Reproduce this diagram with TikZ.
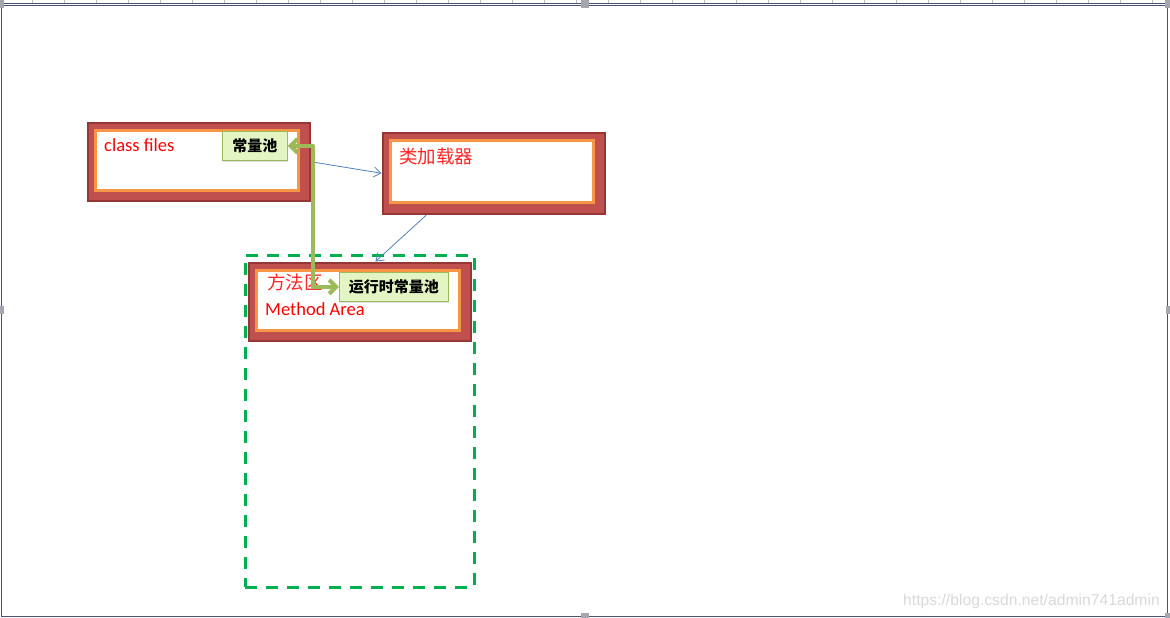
\documentclass[tikz,border=0pt]{standalone}
\usepackage{fontspec}
\setmainfont{Carlito}
\newfontfamily\cjk{Noto Sans CJK SC}
\newfontfamily\wm{Liberation Sans}
\usetikzlibrary{arrows.meta,calc,shadows}
\definecolor{darkred}{HTML}{953735}
\definecolor{boxred}{HTML}{C0504D}
\definecolor{boxorange}{HTML}{F79646}
\definecolor{olivegreen}{HTML}{9BBB59}
\definecolor{palegreen}{HTML}{E2F5C2}
\definecolor{dashgreen}{HTML}{00B050}
\definecolor{linkblue}{HTML}{4F81BD}
\definecolor{framecol}{HTML}{44546A}
\definecolor{handlecol}{HTML}{A6A6AE}
\definecolor{txtred}{HTML}{FF0000}
\tikzset{
  outerbox/.style={draw=darkred, fill=boxred, line width=2.5pt, minimum width=222pt, minimum height=78pt, anchor=north west, inner sep=0pt},
  innerbox/.style={draw=boxorange, fill=white, line width=3pt, minimum width=203pt, minimum height=60pt, inner sep=0pt},
  tagbox/.style={draw=olivegreen, fill=palegreen, line width=0.8pt, inner sep=0pt, drop shadow={shadow xshift=1pt, shadow yshift=-1.5pt, opacity=0.25}, font=\cjk\bfseries\fontsize{15}{17}\selectfont},
  redtxt/.style={text=txtred, anchor=base west, inner sep=0pt},
  thinlink/.style={draw=linkblue, line width=0.8pt, -{Straight Barb[length=7pt,width=10pt]}},
  greenlink/.style={draw=olivegreen, line width=4pt, line join=round, {Straight Barb[length=7pt,width=14pt]}-{Straight Barb[length=7pt,width=14pt]}},
  handle/.style={fill=handlecol, draw=none},
}
\begin{document}
\begin{tikzpicture}[x=1pt,y=-1pt]
\useasboundingbox (0,0) rectangle (1170,618);
\fill[white] (0,0) rectangle (1170,618);
% frame
\foreach \x in {32,64,...,1160} \draw[gray!50, line width=0.4pt] (\x,0) -- (\x,3);
\draw[framecol, line width=1pt] (2,3.5) -- (1168,3.5);
\draw[framecol, line width=1pt] (2,5.5) -- (1168,5.5);
\draw[framecol, line width=1pt] (1.5,8) -- (1.5,616.5) -- (1167.5,616.5) -- (1167.5,8);
\fill[handle] (0,0) rectangle (4,8);
\fill[handle] (581,0) rectangle (589,8);
\fill[handle] (1165,0) rectangle (1170,8);
\fill[handle] (0,306) rectangle (4,314);
\fill[handle] (1166,306) rectangle (1170,314);
\fill[handle] (581,613) rectangle (589,618);
\fill[handle] (1165,613) rectangle (1170,618);

% dashed method area region
\node[draw=dashgreen, dash pattern=on 12pt off 9pt, line width=3pt, minimum width=229pt, minimum height=332pt, anchor=north west, inner sep=0pt] (region) at (243.5,253.5) {};

% class files
\node[outerbox] (cf) at (86.5,121.5) {};
\node[innerbox] (cfi) at ($(cf.center)+(-1.5,-1.5)$) {};
\node[redtxt, font=\fontsize{18.5}{21}\selectfont] (cft) at (104,151) {class files};
\node[tagbox, minimum width=65pt, minimum height=29pt, anchor=north west] (cp) at (222,131) {常量池};

% class loader
\node[outerbox, minimum height=81pt] (cl) at (381.5,131.5) {};
\node[innerbox, minimum height=62pt] (cli) at ($(cl.center)+(-1.5,-1.5)$) {};
\node[redtxt, font=\cjk\fontsize{18.5}{21}\selectfont, text=txtred!85] (clt) at (399,163) {类加载器};

% method area
\node[outerbox] (ma) at (247.5,261.5) {};
\node[innerbox] (mai) at ($(ma.center)+(-1.5,-1.5)$) {};
\node[redtxt, font=\cjk\fontsize{18.5}{21}\selectfont, text=txtred!85] (mat) at (267,289) {方法区};
\node[redtxt, font=\fontsize{18.5}{21}\selectfont] (mae) at (265,315) {Method Area};
\node[tagbox, minimum width=109pt, minimum height=29pt, anchor=north west] (rt) at (339,272) {运行时常量池};

% connectors
\draw[thinlink] (cf.east) -- (cl.west);
\draw[thinlink] ($(cl.south west)!0.2!(cl.south east)$) -- ($(ma.north west)!0.57!(ma.north east)$);
\coordinate (gtop) at (313,0);
\draw[greenlink] (cp.east) -| (gtop |- rt.west) -- (rt.west);

% watermark
\node[anchor=base east, inner sep=0pt, text=gray!30, font=\wm\fontsize{15.7}{18}\selectfont] (wmk) at (1160,605) {https://blog.csdn.net/admin741admin};
\end{tikzpicture}
\end{document}
